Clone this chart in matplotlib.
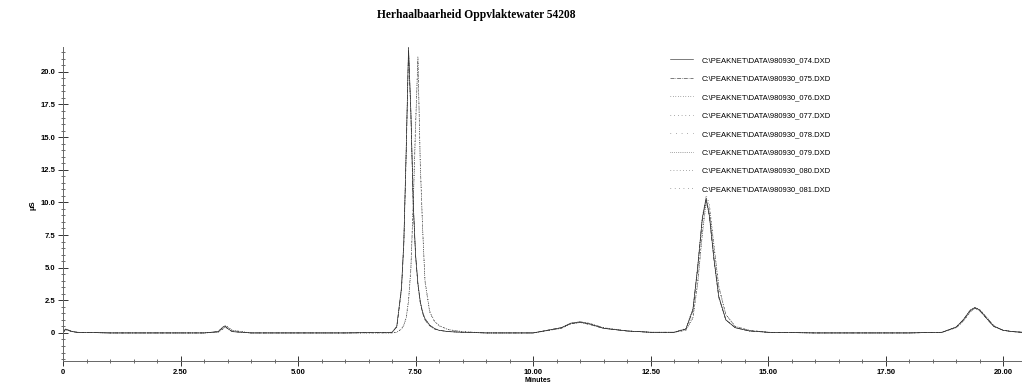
import matplotlib
matplotlib.use("Agg")
import matplotlib.pyplot as plt
from matplotlib.ticker import MultipleLocator

# retention time grid (minutes), shared by all runs
minutes = [0.00, 0.05, 0.10, 0.20, 0.30, 1.00, 2.00, 3.00, 3.30, 3.40,
           3.45, 3.50, 3.60, 4.00, 5.00, 6.00, 7.00, 7.10, 7.20, 7.25,
           7.30, 7.35, 7.40, 7.45, 7.50, 7.55, 7.60, 7.65, 7.70, 7.80,
           7.90, 8.00, 8.20, 8.50, 9.00, 10.00, 10.60, 10.80, 11.00, 11.20,
           11.50, 12.00, 12.50, 13.00, 13.25, 13.40, 13.50, 13.60, 13.68, 13.75,
           13.85, 13.95, 14.10, 14.30, 14.60, 15.00, 16.00, 17.00, 18.00, 18.70,
           19.00, 19.15, 19.30, 19.40, 19.50, 19.65, 19.80, 20.00, 20.20, 20.40]

# conductivity signal (uS) per run
run_074 = [0.0, 0.3, 0.25, 0.1, 0.05, 0.0, 0.0, 0.0, 0.1, 0.45,
           0.55, 0.35, 0.1, 0.0, 0.0, 0.0, 0.05, 0.5, 3.5, 7.0,
           14.0, 21.9, 17.0, 10.0, 6.0, 3.8, 2.4, 1.6, 1.1, 0.6,
           0.35, 0.2, 0.1, 0.05, 0.0, 0.0, 0.4, 0.75, 0.85, 0.7,
           0.35, 0.15, 0.05, 0.05, 0.3, 1.8, 5.0, 8.8, 10.3, 9.0,
           5.6, 2.8, 1.0, 0.4, 0.15, 0.05, 0.0, 0.0, 0.0, 0.05,
           0.45, 1.0, 1.75, 1.95, 1.75, 1.1, 0.5, 0.2, 0.1, 0.05]
run_075 = [0.0, 0.25, 0.2, 0.1, 0.05, 0.0, 0.0, 0.0, 0.1, 0.4,
           0.5, 0.35, 0.1, 0.0, 0.0, 0.0, 0.05, 0.45, 3.3, 6.8,
           13.6, 21.6, 16.8, 9.8, 5.9, 3.7, 2.3, 1.5, 1.0, 0.55,
           0.3, 0.2, 0.1, 0.05, 0.0, 0.0, 0.4, 0.7, 0.8, 0.65,
           0.35, 0.15, 0.05, 0.05, 0.3, 1.7, 4.9, 8.7, 10.2, 8.9,
           5.5, 2.7, 1.0, 0.4, 0.15, 0.05, 0.0, 0.0, 0.0, 0.05,
           0.45, 1.0, 1.7, 1.9, 1.7, 1.1, 0.5, 0.2, 0.1, 0.05]
run_076 = [0.0, 0.3, 0.2, 0.1, 0.05, 0.0, 0.0, 0.0, 0.1, 0.45,
           0.55, 0.3, 0.1, 0.0, 0.0, 0.0, 0.05, 0.5, 3.4, 7.1,
           14.2, 21.8, 16.9, 10.1, 6.0, 3.8, 2.4, 1.6, 1.1, 0.6,
           0.35, 0.2, 0.1, 0.05, 0.0, 0.0, 0.4, 0.75, 0.85, 0.7,
           0.35, 0.15, 0.05, 0.05, 0.35, 1.9, 5.1, 8.9, 10.4, 9.1,
           5.7, 2.8, 1.0, 0.4, 0.15, 0.05, 0.0, 0.0, 0.0, 0.05,
           0.45, 1.0, 1.75, 1.95, 1.75, 1.1, 0.5, 0.2, 0.1, 0.05]
run_077 = [0.0, 0.25, 0.2, 0.1, 0.05, 0.0, 0.0, 0.0, 0.1, 0.4,
           0.5, 0.3, 0.1, 0.0, 0.0, 0.0, 0.05, 0.45, 3.2, 6.6,
           13.4, 21.5, 16.6, 9.7, 5.8, 3.6, 2.3, 1.5, 1.0, 0.55,
           0.3, 0.2, 0.1, 0.05, 0.0, 0.0, 0.4, 0.7, 0.8, 0.65,
           0.35, 0.15, 0.05, 0.05, 0.3, 1.8, 5.0, 8.8, 10.3, 9.0,
           5.6, 2.7, 1.0, 0.4, 0.15, 0.05, 0.0, 0.0, 0.0, 0.05,
           0.45, 1.0, 1.7, 1.9, 1.7, 1.1, 0.5, 0.2, 0.1, 0.05]
run_078 = [0.0, 0.3, 0.25, 0.1, 0.05, 0.0, 0.0, 0.0, 0.05, 0.3,
           0.45, 0.5, 0.2, 0.0, 0.0, 0.0, 0.0, 0.05, 0.3, 0.6,
           1.2, 2.5, 5.0, 10.0, 16.0, 21.3, 13.0, 8.0, 4.0, 1.6,
           0.9, 0.55, 0.25, 0.1, 0.0, 0.0, 0.35, 0.7, 0.85, 0.75,
           0.4, 0.15, 0.05, 0.05, 0.2, 1.2, 3.8, 7.6, 10.0, 9.6,
           6.6, 3.6, 1.4, 0.5, 0.2, 0.05, 0.0, 0.0, 0.0, 0.05,
           0.4, 0.9, 1.65, 1.95, 1.8, 1.2, 0.55, 0.2, 0.1, 0.05]
run_079 = [0.0, 0.25, 0.2, 0.1, 0.05, 0.0, 0.0, 0.0, 0.05, 0.3,
           0.4, 0.45, 0.2, 0.0, 0.0, 0.0, 0.0, 0.05, 0.3, 0.6,
           1.1, 2.4, 4.8, 9.7, 15.6, 21.0, 12.8, 7.9, 3.9, 1.6,
           0.9, 0.55, 0.25, 0.1, 0.0, 0.0, 0.35, 0.7, 0.8, 0.7,
           0.4, 0.15, 0.05, 0.05, 0.2, 1.1, 3.7, 7.5, 9.9, 9.5,
           6.5, 3.5, 1.4, 0.5, 0.2, 0.05, 0.0, 0.0, 0.0, 0.05,
           0.4, 0.9, 1.6, 1.9, 1.75, 1.2, 0.55, 0.2, 0.1, 0.05]
run_080 = [0.0, 0.3, 0.2, 0.1, 0.05, 0.0, 0.0, 0.0, 0.05, 0.3,
           0.45, 0.5, 0.2, 0.0, 0.0, 0.0, 0.0, 0.05, 0.3, 0.6,
           1.2, 2.5, 5.1, 10.2, 16.2, 20.8, 13.2, 8.1, 4.1, 1.7,
           0.9, 0.55, 0.25, 0.1, 0.0, 0.0, 0.35, 0.7, 0.85, 0.75,
           0.4, 0.15, 0.05, 0.05, 0.25, 1.3, 3.9, 7.8, 10.3, 9.8,
           6.7, 3.6, 1.4, 0.5, 0.2, 0.05, 0.0, 0.0, 0.0, 0.05,
           0.4, 0.9, 1.65, 1.95, 1.8, 1.2, 0.55, 0.2, 0.1, 0.05]
run_081 = [0.0, 0.25, 0.2, 0.1, 0.05, 0.0, 0.0, 0.0, 0.05, 0.3,
           0.4, 0.45, 0.2, 0.0, 0.0, 0.0, 0.0, 0.05, 0.3, 0.6,
           1.2, 2.4, 4.9, 9.9, 15.8, 21.2, 12.9, 8.0, 4.0, 1.6,
           0.9, 0.55, 0.25, 0.1, 0.0, 0.0, 0.35, 0.7, 0.8, 0.7,
           0.4, 0.15, 0.05, 0.05, 0.2, 1.2, 3.8, 7.7, 10.6, 9.9,
           6.6, 3.5, 1.4, 0.5, 0.2, 0.05, 0.0, 0.0, 0.0, 0.05,
           0.4, 0.9, 1.6, 1.9, 1.75, 1.2, 0.55, 0.2, 0.1, 0.05]

runs = [run_074, run_075, run_076, run_077, run_078, run_079, run_080, run_081]
run_labels = ["C:\\PEAKNET\\DATA\\980930_0%d.DXD" % n for n in range(74, 82)]
styles = ["-", "-.", (0, (1, 3)), (0, (1, 5)), (0, (1, 8)), (0, (1, 2)),
          (0, (1, 4)), (0, (1, 6))]

x_ticks = [0, 2.5, 5.0, 7.5, 10.0, 12.5, 15.0, 17.5, 20.0]
x_tick_labels = ["0", "2.50", "5.00", "7.50", "10.00", "12.50", "15.00", "17.50", "20.00"]
y_ticks = [0, 2.5, 5.0, 7.5, 10.0, 12.5, 15.0, 17.5, 20.0]
y_tick_labels = ["0", "2.5", "5.0", "7.5", "10.0", "12.5", "15.0", "17.5", "20.0"]

fig = plt.figure(figsize=(10.22, 3.84), dpi=100)
ax = fig.add_axes([63 / 1022, 1 - 361 / 384, 1 - 63 / 1022, (361 - 47) / 384])

for vals, lab, ls in zip(runs, run_labels, styles):
    ax.plot(minutes, vals, color="#333333", linestyle=ls, linewidth=0.45, label=lab)

ax.set_xlim(0, 20.4)
ax.set_ylim(-2.15, 21.9)
for side in ["top", "right"]:
    ax.spines[side].set_visible(False)
for side in ["left", "bottom"]:
    ax.spines[side].set_color("#666666")
    ax.spines[side].set_linewidth(0.7)

ax.set_xticks(x_ticks)
ax.set_xticklabels(x_tick_labels, fontsize=5.5, family="Liberation Sans", fontweight="bold")
ax.set_yticks(y_ticks)
ax.set_yticklabels(y_tick_labels, fontsize=5.5, family="Liberation Sans", fontweight="bold")
ax.xaxis.set_minor_locator(MultipleLocator(0.5))
ax.yaxis.set_minor_locator(MultipleLocator(0.5))
ax.tick_params(which="major", direction="inout", length=7, width=0.7, color="#333333", pad=2)
ax.tick_params(which="minor", direction="inout", length=3, width=0.6, color="#555555")

fig.text(476 / 1022, 1 - 15 / 384, "Herhaalbaarheid Oppvlaktewater 54208",
         ha="center", va="center", fontsize=8.3, family="Liberation Serif", fontweight="bold")
fig.text(33 / 1022, 1 - 205 / 384, "\u00b5S", rotation=90, ha="center", va="center",
         fontsize=5.5, family="Liberation Sans", fontweight="bold")
fig.text(538 / 1022, 1 - 380 / 384, "Minutes", ha="center", va="center",
         fontsize=5, family="Liberation Sans", fontweight="bold")

ax.legend(loc="upper left", bbox_to_anchor=(666 / 1022, 1 - 53 / 384),
          bbox_transform=fig.transFigure, frameon=False, borderpad=0,
          prop={"family": "Liberation Sans", "size": 5.5},
          handlelength=3.0, handletextpad=1.2, labelspacing=1.45)

fig.savefig("out.png", dpi=100)
